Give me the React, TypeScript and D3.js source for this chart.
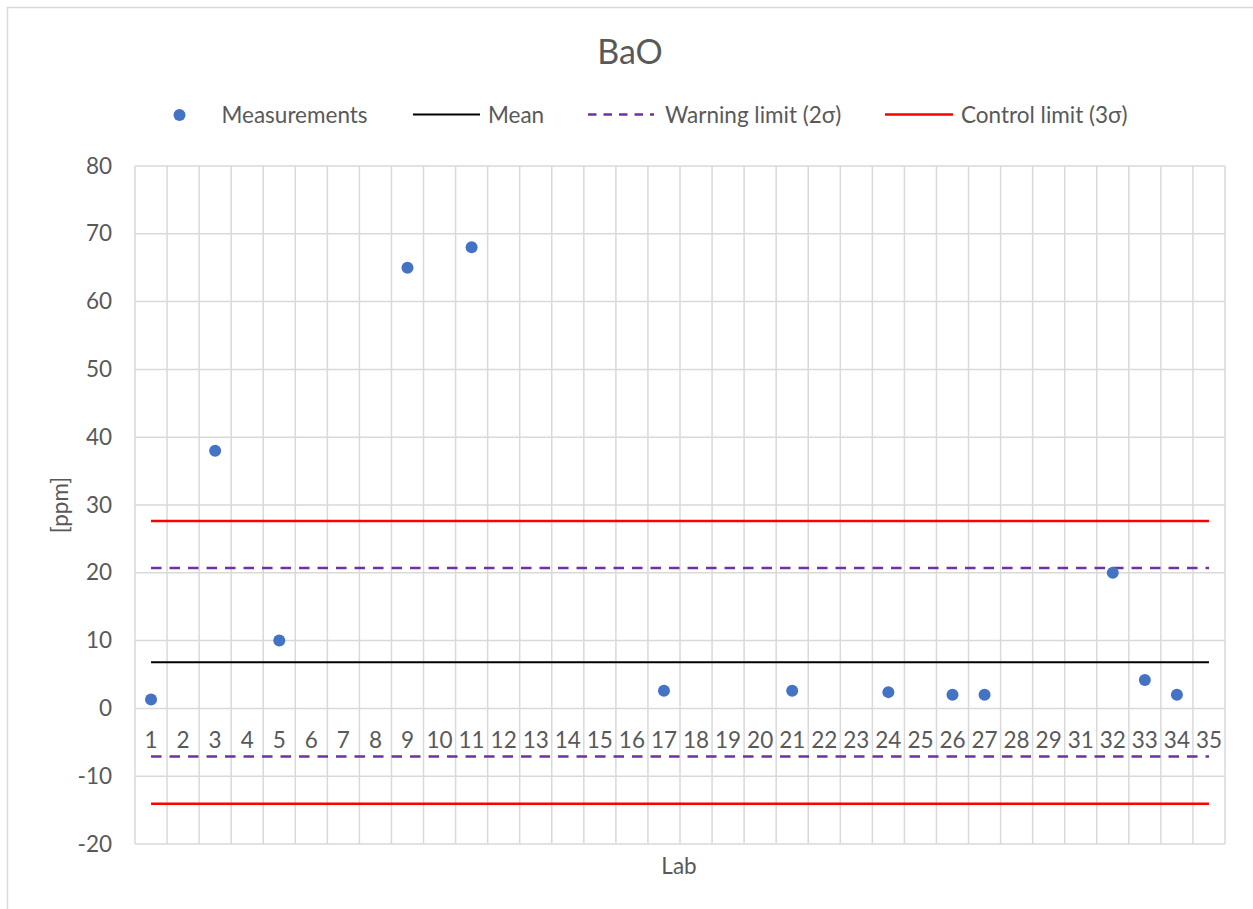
import React from "react";
import * as d3 from "d3";

const labs = [
  "1","2","3","4","5","6","7","8","9","10","11","12","13","14","15","16","17",
  "18","19","20","21","22","23","24","25","26","27","28","29","31","32","33","34","35",
];
const measuredLabs = ["1","3","5","9","11","17","21","24","26","27","32","33","34"];
const measuredValues = [1.3, 38, 10, 65, 68, 2.6, 2.6, 2.4, 2.0, 2.0, 20.0, 4.2, 2.0];
const meanValue = 6.8;
const warningLimits = [20.7, -7.1];
const controlLimits = [27.65, -14.05];
const yTicks = [-20, -10, 0, 10, 20, 30, 40, 50, 60, 70, 80];

const W = 1253;
const H = 909;
const FONT = "Lato, 'Open Sans', sans-serif";
const TEXT = "#595959";
const GRID = "#d9d9d9";

export default function App() {
  const left = 135, right = 1225, top = 166, bottom = 844;
  const x = d3.scaleBand<string>().domain(labs).range([left, right]).padding(0);
  const y = d3.scaleLinear().domain([-20, 80]).range([bottom, top]);
  const bw = x.bandwidth();
  const cx = (l: string) => (x(l) as number) + bw / 2;
  const x0 = cx(labs[0]);
  const x1 = cx(labs[labs.length - 1]);

  const hLine = (v: number, stroke: string, sw: number, dash?: string, key?: string) => (
    <line key={key} x1={x0} x2={x1} y1={y(v)} y2={y(v)} stroke={stroke} strokeWidth={sw} strokeDasharray={dash} />
  );

  return (
    <svg width={W} height={H} style={{ position: "absolute", left: 0, top: 0, display: "block" }} fontFamily={FONT}>
      <rect x={0} y={0} width={W} height={H} fill="#fff" />
      <line x1={7.5} x2={7.5} y1={7} y2={H} stroke={GRID} strokeWidth={1.5} />
      <line x1={7} x2={W} y1={7.5} y2={7.5} stroke={GRID} strokeWidth={1.5} />

      <text x={630} y={50} textAnchor="middle" dominantBaseline="central" fontSize={34} fill={TEXT}>BaO</text>

      {/* legend */}
      <g fontSize={22.5} fill={TEXT}>
        <circle cx={179.5} cy={115} r={6} fill="#4472C4" />
        <text x={221.5} y={114} dominantBaseline="central">Measurements</text>
        <line x1={413} x2={480} y1={114.5} y2={114.5} stroke="#000" strokeWidth={2} />
        <text x={488} y={114} dominantBaseline="central">Mean</text>
        <line x1={588} x2={654} y1={114.5} y2={114.5} stroke="#7030A0" strokeWidth={2.5} strokeDasharray="8.5 7" />
        <text x={665} y={114} dominantBaseline="central">Warning limit (2σ)</text>
        <line x1={885} x2={953} y1={114.5} y2={114.5} stroke="#FF0000" strokeWidth={2.5} />
        <text x={961} y={114} dominantBaseline="central">Control limit (3σ)</text>
      </g>

      {/* grid */}
      <g stroke={GRID} strokeWidth={1.5}>
        {yTicks.map((t) => (
          <line key={"h" + t} x1={left} x2={right} y1={y(t)} y2={y(t)} />
        ))}
        {labs.map((l) => (
          <line key={"v" + l} x1={x(l) as number} x2={x(l) as number} y1={top} y2={bottom} />
        ))}
        <line x1={right} x2={right} y1={top} y2={bottom} />
      </g>

      {/* y tick labels */}
      <g fontSize={22.5} fill={TEXT} textAnchor="end">
        {yTicks.map((t) => (
          <text key={"yt" + t} x={112} y={y(t) - 1} dominantBaseline="central">{t}</text>
        ))}
      </g>

      {/* category labels */}
      <g fontSize={22.5} fill={TEXT} textAnchor="middle">
        {labs.map((l) => (
          <text key={"xl" + l} x={cx(l)} y={y(0) + 31} dominantBaseline="central">{l}</text>
        ))}
      </g>

      {/* limit lines */}
      {hLine(controlLimits[0], "#FF0000", 2.5, undefined, "c0")}
      {hLine(controlLimits[1], "#FF0000", 2.5, undefined, "c1")}
      {hLine(warningLimits[0], "#7030A0", 2.5, "10.5 8", "w0")}
      {hLine(warningLimits[1], "#7030A0", 2.5, "10.5 8", "w1")}
      {hLine(meanValue, "#000000", 2, undefined, "m")}

      {/* points */}
      {measuredLabs.map((l, i) => (
        <circle key={"p" + l} cx={cx(l)} cy={y(measuredValues[i])} r={6} fill="#4472C4" />
      ))}

      <text x={59} y={505} textAnchor="middle" dominantBaseline="central" fontSize={22.5} fill={TEXT}
        transform="rotate(-90 59 505)">[ppm]</text>
      <text x={679} y={865} textAnchor="middle" dominantBaseline="central" fontSize={22.5} fill={TEXT}>Lab</text>
    </svg>
  );
}
